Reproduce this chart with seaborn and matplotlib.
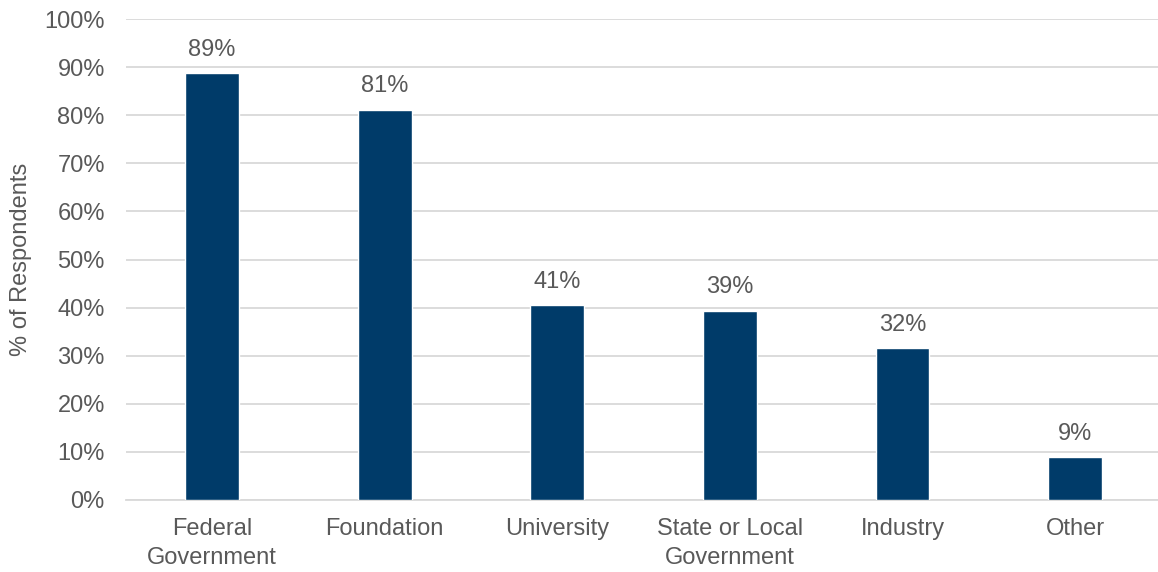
import matplotlib
matplotlib.use("Agg")
import matplotlib.pyplot as plt
import seaborn as sns
import pandas as pd
from matplotlib.ticker import FuncFormatter

categories = ["Federal\nGovernment", "Foundation", "University", "State or Local\nGovernment", "Industry", "Other"]
values = [88.7, 81.1, 40.5, 39.3, 31.6, 8.9]
labels = ["89%", "81%", "41%", "39%", "32%", "9%"]

sns.set_theme(style="white")
plt.rcParams["font.family"] = ["Liberation Sans", "DejaVu Sans"]

text_color = "#595959"
bar_color = "#003B69"
grid_color = "#D9D9D9"
fs = 17

df = pd.DataFrame({"cat": categories, "val": values})

fig = plt.figure(figsize=(11.58, 5.72), dpi=100)
ax = fig.add_axes([125.6 / 1158, 72 / 572, (1158 - 125.6) / 1158, 481 / 572])

sns.barplot(data=df, x="cat", y="val", color=bar_color, width=0.3125, saturation=1, ax=ax, zorder=3)

ax.set_ylim(0, 100)
ax.set_xlim(-0.5, 5.48)
ax.set_yticks(range(0, 101, 10))
ax.yaxis.set_major_formatter(FuncFormatter(lambda v, p: f"{int(v)}%"))
ax.grid(axis="y", color=grid_color, linewidth=1.3, zorder=0)
ax.set_axisbelow(True)
for s in ["top", "right", "left"]:
    ax.spines[s].set_visible(False)
ax.spines["bottom"].set_color(grid_color)
ax.spines["bottom"].set_linewidth(1.3)
ax.tick_params(axis="both", length=0, labelsize=fs, labelcolor=text_color)
ax.tick_params(axis="x", pad=13)
ax.tick_params(axis="y", pad=15)
ax.set_xlabel("")
ax.set_ylabel("% of Respondents", fontsize=fs, color=text_color, labelpad=9)
for lab in ax.get_xticklabels():
    lab.set_linespacing(1.4)

for i, (v, t) in enumerate(zip(values, labels)):
    ax.annotate(t, (i, v), xytext=(0, 9), textcoords="offset points", ha="center", va="bottom",
                fontsize=fs, color=text_color)

fig.savefig("out.png", dpi=100)
